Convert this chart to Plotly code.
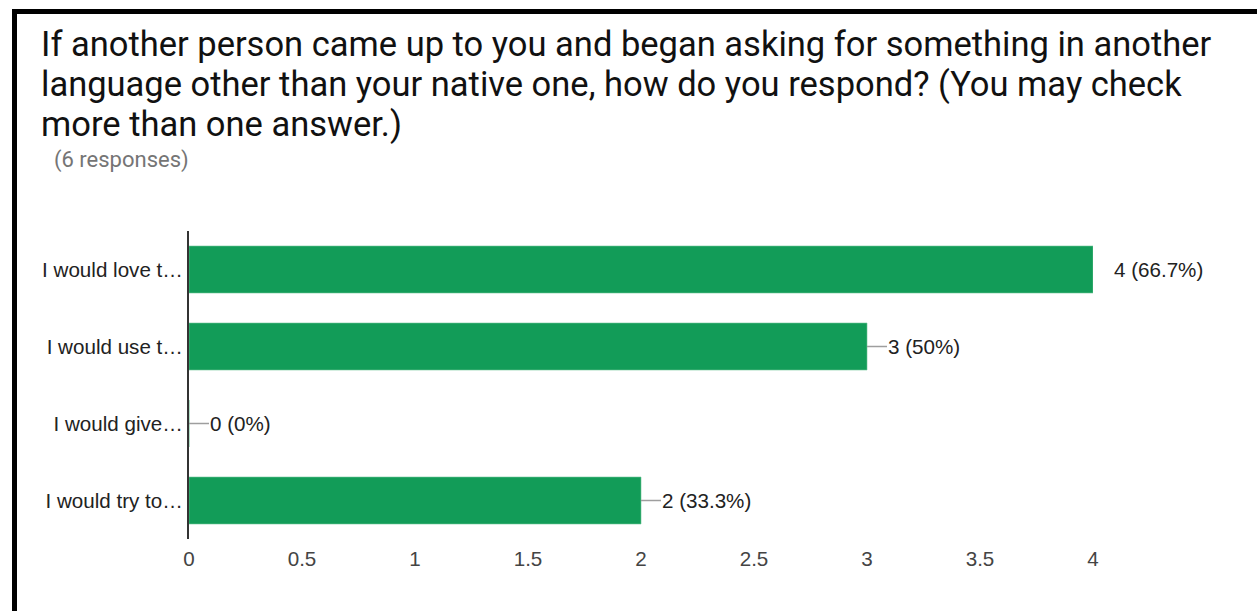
import plotly.graph_objects as go

# Survey results
categories = ["I would love t…", "I would use t…", "I would give…", "I would try to…"]
counts = [4, 3, 0, 2]
percent_labels = ["66.7%", "50%", "0%", "33.3%"]
x_ticks = [0, 0.5, 1, 1.5, 2, 2.5, 3, 3.5, 4]
x_tick_labels = ["0", "0.5", "1", "1.5", "2", "2.5", "3", "3.5", "4"]
leader_lengths = [4, 20, 20, 20]

title_lines = [
    "If another person came up to you and began asking for something in another",
    "language other than your native one, how do you respond? (You may check",
    "more than one answer.)",
]
subtitle_text = "(6 responses)"

W, H = 1257, 611
L, R, T, B = 189, 164, 231, 72
plot_w = W - L - R
plot_h = H - T - B
LABEL_FONT = "Arial, Liberation Sans"


def px_x(p):
    return (p - L) / plot_w


def px_y(p):
    return (H - B - p) / plot_h


fig = go.Figure(go.Bar(
    x=counts,
    y=categories,
    orientation="h",
    marker=dict(color="#129C58", line=dict(color="#6CC596", width=0.6)),
    width=0.61,
    hoverinfo="skip",
))

# value labels with short leader lines
shapes = []
annotations = []
for cat, val, pct, ll in zip(categories, counts, percent_labels, leader_lengths):
    shapes.append(dict(
        type="line", xref="x", yref="y", xsizemode="pixel", xanchor=val,
        x0=0, x1=ll, y0=cat, y1=cat, line=dict(color="#9E9E9E", width=1.5),
    ))
    annotations.append(dict(
        x=val, y=cat, xref="x", yref="y", xanchor="left", yanchor="middle",
        xshift=19, text=f"{val} ({pct})", showarrow=False,
        font=dict(family=LABEL_FONT, size=20.6, color="#222222"),
    ))

# question text, one annotation per line
for i, line in enumerate(title_lines):
    annotations.append(dict(
        x=px_x(39), y=px_y(44 + 40 * i), xref="paper", yref="paper",
        xanchor="left", yanchor="middle", text=line, showarrow=False,
        font=dict(family="Roboto", size=34.5, color="#111111"),
    ))

# subtitle
annotations.append(dict(
    x=px_x(52), y=px_y(160), xref="paper", yref="paper",
    xanchor="left", yanchor="middle", text=subtitle_text, showarrow=False,
    font=dict(family="Roboto", size=22, color="#757575"),
))

# frame edges on the left and top
shapes.append(dict(type="line", xref="paper", yref="paper",
                   x0=px_x(14.5), x1=px_x(14.5), y0=px_y(9.5), y1=px_y(640),
                   line=dict(color="black", width=5)))
shapes.append(dict(type="line", xref="paper", yref="paper",
                   x0=px_x(12), x1=px_x(1300), y0=px_y(11.5), y1=px_y(11.5),
                   line=dict(color="black", width=5)))

fig.update_layout(
    width=W, height=H,
    margin=dict(l=L, r=R, t=T, b=B, pad=0),
    paper_bgcolor="white", plot_bgcolor="white",
    showlegend=False,
    xaxis=dict(range=[0, 4], tickvals=x_ticks, ticktext=x_tick_labels,
               showgrid=False, zeroline=False, showline=False, ticks="",
               ticklabelstandoff=5,
               tickfont=dict(family=LABEL_FONT, size=20.6, color="#444444")),
    yaxis=dict(autorange="reversed", showgrid=False, zeroline=False,
               showline=True, linecolor="#333333", linewidth=2, ticks="",
               ticklabelstandoff=0,
               tickfont=dict(family=LABEL_FONT, size=20.6, color="#222222")),
    bargap=0.39,
    shapes=shapes,
    annotations=annotations,
)

fig.write_html("out.html")
